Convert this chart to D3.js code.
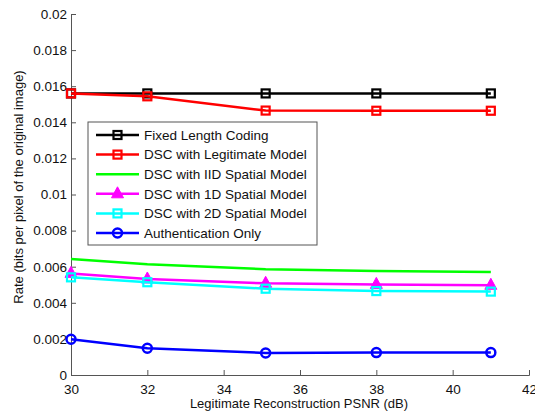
<!DOCTYPE html>
<html>
<head>
<meta charset="utf-8">
<script src="https://cdn.jsdelivr.net/npm/d3@7"></script>
<style>
  body { margin: 0; background: #fff; }
  text { font-family: "Liberation Sans", Arial, sans-serif; }
</style>
</head>
<body>
<svg id="chart" width="535" height="415"></svg>
<script>
const psnr = [30, 32, 35.1, 38, 41];
const fixedLength = [0.0156, 0.0156, 0.0156, 0.0156, 0.0156];
const legitModel = [0.0156, 0.01544, 0.01465, 0.01464, 0.01464];
const iidSpatial = [0.00643, 0.00613, 0.00586, 0.00576, 0.00571];
const spatial1D = [0.00563, 0.00532, 0.00508, 0.00502, 0.00497];
const spatial2D = [0.00541, 0.00514, 0.00478, 0.00465, 0.00462];
const authOnly = [0.00198, 0.00148, 0.00122, 0.00124, 0.00124];

const seriesNames = [
  "Fixed Length Coding",
  "DSC with Legitimate Model",
  "DSC with IID Spatial Model",
  "DSC with 1D Spatial Model",
  "DSC with 2D Spatial Model",
  "Authentication Only"
];
const xTicks = [30, 32, 34, 36, 38, 40, 42];
const yTicks = [0, 0.002, 0.004, 0.006, 0.008, 0.01, 0.012, 0.014, 0.016, 0.018, 0.02];

const series = [
  {name: seriesNames[0], values: fixedLength, color: "#000000", marker: "square"},
  {name: seriesNames[1], values: legitModel, color: "#ff0000", marker: "square"},
  {name: seriesNames[2], values: iidSpatial, color: "#00ff00", marker: "none"},
  {name: seriesNames[3], values: spatial1D, color: "#ff00ff", marker: "triangle"},
  {name: seriesNames[4], values: spatial2D, color: "#00ffff", marker: "square"},
  {name: seriesNames[5], values: authOnly, color: "#0000ff", marker: "circle"}
];

const margin = {top: 14, left: 71, right: 6, bottom: 40};
const width = 535, height = 415;
const svg = d3.select("#chart");

const x = d3.scaleLinear().domain([30, 42]).range([margin.left, width - margin.right]);
const y = d3.scaleLinear().domain([0, 0.02]).range([height - margin.bottom, margin.top]);

// axes, ticks point inward like the original
const xAxis = svg.append("g")
  .attr("transform", `translate(0,${y(0)})`)
  .call(d3.axisBottom(x).tickValues(xTicks).tickSize(-5).tickPadding(8).tickFormat(d3.format("d")));
const yAxis = svg.append("g")
  .attr("transform", `translate(${x(30)},0)`)
  .call(d3.axisLeft(y).tickValues(yTicks).tickSize(-5).tickPadding(4).tickFormat(d => d === 0 ? "0" : String(+d.toFixed(3))));

[xAxis, yAxis].forEach(g => {
  g.select(".domain").attr("stroke", "#555").attr("stroke-width", 1);
  g.selectAll(".tick line").attr("stroke", "#555");
  g.selectAll(".tick text").attr("font-size", "13.5px").attr("fill", "#111")
    .style("font-family", "'Liberation Sans', Arial, sans-serif");
});
xAxis.selectAll(".tick text").attr("dy", "0.85em");

svg.append("text")
  .attr("x", 299)
  .attr("y", 408)
  .attr("text-anchor", "middle")
  .attr("font-size", "13px")
  .attr("fill", "#111")
  .text("Legitimate Reconstruction PSNR (dB)");

svg.append("text")
  .attr("transform", "translate(23,187) rotate(-90)")
  .attr("text-anchor", "middle")
  .attr("font-size", "13px")
  .attr("fill", "#111")
  .text("Rate (bits per pixel of the original image)");

function drawMarker(g, type, color, cx, cy) {
  if (type === "square") {
    g.append("rect").attr("x", cx - 4).attr("y", cy - 4).attr("width", 8).attr("height", 8)
      .attr("fill", "none").attr("stroke", color).attr("stroke-width", 2.2);
  } else if (type === "circle") {
    g.append("circle").attr("cx", cx).attr("cy", cy).attr("r", 4.5)
      .attr("fill", "none").attr("stroke", color).attr("stroke-width", 2.5);
  } else if (type === "triangle") {
    g.append("path")
      .attr("d", `M${cx},${cy - 7} L${cx + 6},${cy + 4} L${cx - 6},${cy + 4} Z`)
      .attr("fill", color).attr("stroke", color).attr("stroke-width", 1);
  }
}

const line = d3.line().x(d => x(d[0])).y(d => y(d[1]));

series.forEach(s => {
  const pts = psnr.map((p, i) => [p, s.values[i]]);
  const g = svg.append("g");
  g.append("path").datum(pts).attr("d", line)
    .attr("fill", "none").attr("stroke", s.color).attr("stroke-width", 2.5);
  pts.forEach(p => drawMarker(g, s.marker, s.color, x(p[0]), y(p[1])));
});

// legend
const legend = svg.append("g").attr("transform", "translate(88,122)");
legend.append("rect").attr("width", 229).attr("height", 123)
  .attr("fill", "#fff").attr("stroke", "#555").attr("stroke-width", 1);
series.forEach((s, i) => {
  const ly = 13 + i * 19.6;
  const row = legend.append("g");
  row.append("line").attr("x1", 8).attr("x2", 51).attr("y1", ly).attr("y2", ly)
    .attr("stroke", s.color).attr("stroke-width", 2.5);
  drawMarker(row, s.marker, s.color, 29.5, ly);
  row.append("text").attr("x", 56).attr("y", ly).attr("dy", "0.35em")
    .attr("font-size", "13.5px").attr("fill", "#111").text(s.name);
});
</script>
</body>
</html>
